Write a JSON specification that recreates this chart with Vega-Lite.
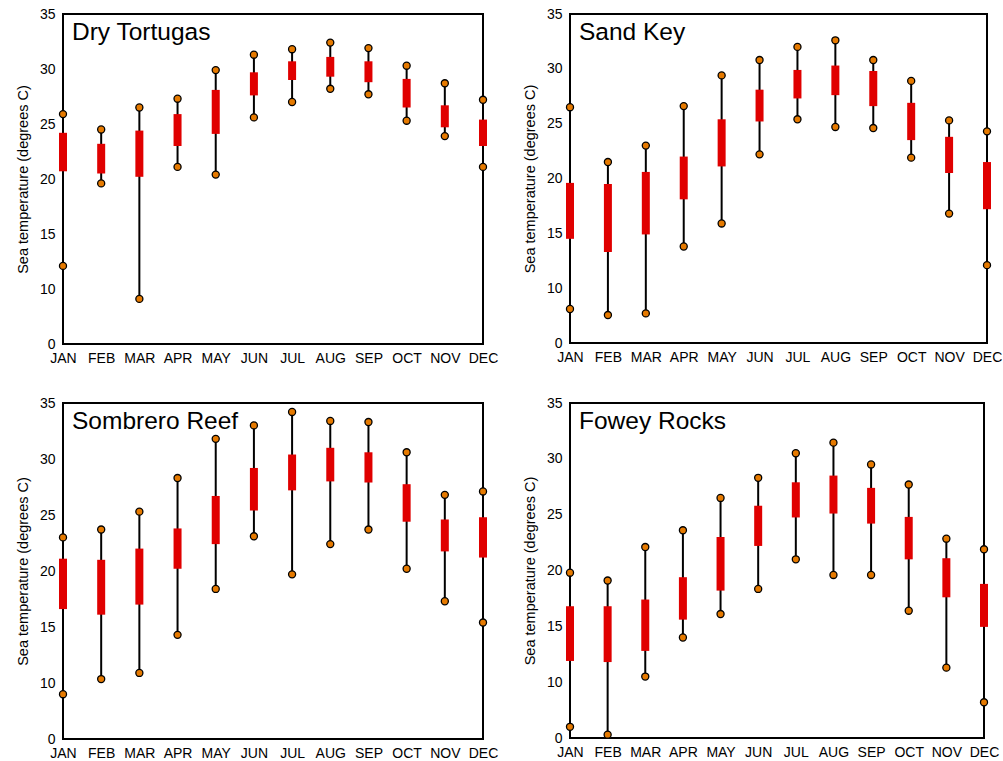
{
  "$schema": "https://vega.github.io/schema/vega-lite/v6.json",
  "padding": {"left": 14, "top": 6, "right": 0, "bottom": 0},
  "data": {"values": [
    {"station": "Dry Tortugas", "month": "JAN", "min": 12.1, "q1": 20.7, "q3": 24.2, "max": 25.9},
    {"station": "Dry Tortugas", "month": "FEB", "min": 19.6, "q1": 20.5, "q3": 23.2, "max": 24.5},
    {"station": "Dry Tortugas", "month": "MAR", "min": 9.1, "q1": 20.2, "q3": 24.4, "max": 26.5},
    {"station": "Dry Tortugas", "month": "APR", "min": 21.1, "q1": 23.0, "q3": 25.9, "max": 27.3},
    {"station": "Dry Tortugas", "month": "MAY", "min": 20.4, "q1": 24.1, "q3": 28.1, "max": 29.9},
    {"station": "Dry Tortugas", "month": "JUN", "min": 25.6, "q1": 27.6, "q3": 29.7, "max": 31.3},
    {"station": "Dry Tortugas", "month": "JUL", "min": 27.0, "q1": 29.0, "q3": 30.7, "max": 31.8},
    {"station": "Dry Tortugas", "month": "AUG", "min": 28.2, "q1": 29.3, "q3": 31.1, "max": 32.4},
    {"station": "Dry Tortugas", "month": "SEP", "min": 27.7, "q1": 28.8, "q3": 30.7, "max": 31.9},
    {"station": "Dry Tortugas", "month": "OCT", "min": 25.3, "q1": 26.5, "q3": 29.1, "max": 30.3},
    {"station": "Dry Tortugas", "month": "NOV", "min": 23.9, "q1": 24.7, "q3": 26.7, "max": 28.7},
    {"station": "Dry Tortugas", "month": "DEC", "min": 21.1, "q1": 23.0, "q3": 25.4, "max": 27.2},
    {"station": "Sand Key", "month": "JAN", "min": 8.1, "q1": 14.5, "q3": 19.6, "max": 26.5},
    {"station": "Sand Key", "month": "FEB", "min": 7.55, "q1": 13.3, "q3": 19.5, "max": 21.5},
    {"station": "Sand Key", "month": "MAR", "min": 7.7, "q1": 14.9, "q3": 20.6, "max": 23.0},
    {"station": "Sand Key", "month": "APR", "min": 13.8, "q1": 18.1, "q3": 22.0, "max": 26.6},
    {"station": "Sand Key", "month": "MAY", "min": 15.9, "q1": 21.1, "q3": 25.4, "max": 29.4},
    {"station": "Sand Key", "month": "JUN", "min": 22.2, "q1": 25.2, "q3": 28.1, "max": 30.8},
    {"station": "Sand Key", "month": "JUL", "min": 25.4, "q1": 27.3, "q3": 29.9, "max": 32.0},
    {"station": "Sand Key", "month": "AUG", "min": 24.7, "q1": 27.6, "q3": 30.3, "max": 32.6},
    {"station": "Sand Key", "month": "SEP", "min": 24.6, "q1": 26.6, "q3": 29.8, "max": 30.8},
    {"station": "Sand Key", "month": "OCT", "min": 21.9, "q1": 23.5, "q3": 26.9, "max": 28.9},
    {"station": "Sand Key", "month": "NOV", "min": 16.8, "q1": 20.5, "q3": 23.8, "max": 25.3},
    {"station": "Sand Key", "month": "DEC", "min": 12.1, "q1": 17.2, "q3": 21.5, "max": 24.3},
    {"station": "Sombrero Reef", "month": "JAN", "min": 9.0, "q1": 16.6, "q3": 21.1, "max": 23.0},
    {"station": "Sombrero Reef", "month": "FEB", "min": 10.35, "q1": 16.1, "q3": 21.0, "max": 23.7},
    {"station": "Sombrero Reef", "month": "MAR", "min": 10.9, "q1": 17.0, "q3": 22.0, "max": 25.3},
    {"station": "Sombrero Reef", "month": "APR", "min": 14.3, "q1": 20.2, "q3": 23.8, "max": 28.3},
    {"station": "Sombrero Reef", "month": "MAY", "min": 18.4, "q1": 22.4, "q3": 26.7, "max": 31.8},
    {"station": "Sombrero Reef", "month": "JUN", "min": 23.1, "q1": 25.4, "q3": 29.2, "max": 33.0},
    {"station": "Sombrero Reef", "month": "JUL", "min": 19.7, "q1": 27.2, "q3": 30.4, "max": 34.2},
    {"station": "Sombrero Reef", "month": "AUG", "min": 22.4, "q1": 28.0, "q3": 31.0, "max": 33.4},
    {"station": "Sombrero Reef", "month": "SEP", "min": 23.7, "q1": 27.9, "q3": 30.6, "max": 33.3},
    {"station": "Sombrero Reef", "month": "OCT", "min": 20.2, "q1": 24.4, "q3": 27.75, "max": 30.6},
    {"station": "Sombrero Reef", "month": "NOV", "min": 17.3, "q1": 21.75, "q3": 24.6, "max": 26.8},
    {"station": "Sombrero Reef", "month": "DEC", "min": 15.4, "q1": 21.2, "q3": 24.8, "max": 27.1},
    {"station": "Fowey Rocks", "month": "JAN", "min": 6.0, "q1": 11.9, "q3": 16.8, "max": 19.8},
    {"station": "Fowey Rocks", "month": "FEB", "min": 5.3, "q1": 11.8, "q3": 16.8, "max": 19.1},
    {"station": "Fowey Rocks", "month": "MAR", "min": 10.5, "q1": 12.8, "q3": 17.4, "max": 22.1},
    {"station": "Fowey Rocks", "month": "APR", "min": 14.0, "q1": 15.6, "q3": 19.4, "max": 23.6},
    {"station": "Fowey Rocks", "month": "MAY", "min": 16.1, "q1": 18.2, "q3": 23.0, "max": 26.5},
    {"station": "Fowey Rocks", "month": "JUN", "min": 18.35, "q1": 22.2, "q3": 25.8, "max": 28.3},
    {"station": "Fowey Rocks", "month": "JUL", "min": 21.0, "q1": 24.75, "q3": 27.9, "max": 30.5},
    {"station": "Fowey Rocks", "month": "AUG", "min": 19.6, "q1": 25.1, "q3": 28.5, "max": 31.45},
    {"station": "Fowey Rocks", "month": "SEP", "min": 19.6, "q1": 24.2, "q3": 27.4, "max": 29.5},
    {"station": "Fowey Rocks", "month": "OCT", "min": 16.4, "q1": 21.0, "q3": 24.8, "max": 27.7},
    {"station": "Fowey Rocks", "month": "NOV", "min": 11.3, "q1": 17.6, "q3": 21.1, "max": 22.85},
    {"station": "Fowey Rocks", "month": "DEC", "min": 8.2, "q1": 14.95, "q3": 18.8, "max": 21.9}
  ]},
  "spacing": 29,
  "vconcat": [
    {
      "spacing": 22,
      "hconcat": [
        {
          "width": 420, "height": 330,
          "transform": [{"filter": "datum.station == 'Dry Tortugas'"}],
          "encoding": {"x": {"field": "month", "type": "ordinal", "sort": ["JAN", "FEB", "MAR", "APR", "MAY", "JUN", "JUL", "AUG", "SEP", "OCT", "NOV", "DEC"], "scale": {"type": "point", "padding": 0}, "axis": {"title": null, "labelAngle": 0, "ticks": false, "domain": false, "labelPadding": 7, "labelFontSize": 14, "labelColor": "#000", "grid": false}}},
          "layer": [
            {"mark": {"type": "rule", "color": "#000", "strokeWidth": 2}, "encoding": {"y": {"field": "min", "type": "quantitative", "scale": {"domain": [5, 35], "nice": false, "zero": false}, "axis": {"title": "Sea temperature (degrees C)", "values": [5, 10, 15, 20, 25, 30, 35], "labelExpr": "datum.value == 5 ? '0' : datum.label", "ticks": false, "domain": false, "grid": false, "labelPadding": 8, "labelFontSize": 14, "labelColor": "#000", "titleFontSize": 14.5, "titleFontWeight": "normal", "titleColor": "#000", "titlePadding": 9}}, "y2": {"field": "max"}}},
            {"mark": {"type": "bar", "color": "#E00000", "size": 8}, "encoding": {"y": {"field": "q1", "type": "quantitative"}, "y2": {"field": "q3"}}},
            {"mark": {"type": "point", "filled": true, "fill": "#E67A00", "stroke": "#000", "strokeWidth": 1.3, "size": 50, "opacity": 1}, "encoding": {"y": {"field": "min", "type": "quantitative"}}},
            {"mark": {"type": "point", "filled": true, "fill": "#E67A00", "stroke": "#000", "strokeWidth": 1.3, "size": 50, "opacity": 1}, "encoding": {"y": {"field": "max", "type": "quantitative"}}},
            {"transform": [{"filter": "datum.month == 'JAN'"}], "mark": {"type": "text", "align": "left", "baseline": "top", "dx": 9, "dy": 7, "fontSize": 24.5, "color": "#000"}, "encoding": {"y": {"datum": 35}, "text": {"field": "station"}}}
          ]
        },
        {
          "width": 417, "height": 329,
          "transform": [{"filter": "datum.station == 'Sand Key'"}],
          "encoding": {"x": {"field": "month", "type": "ordinal", "sort": ["JAN", "FEB", "MAR", "APR", "MAY", "JUN", "JUL", "AUG", "SEP", "OCT", "NOV", "DEC"], "scale": {"type": "point", "padding": 0}, "axis": {"title": null, "labelAngle": 0, "ticks": false, "domain": false, "labelPadding": 7, "labelFontSize": 14, "labelColor": "#000", "grid": false}}},
          "layer": [
            {"mark": {"type": "rule", "color": "#000", "strokeWidth": 2}, "encoding": {"y": {"field": "min", "type": "quantitative", "scale": {"domain": [5, 35], "nice": false, "zero": false}, "axis": {"title": "Sea temperature (degrees C)", "values": [5, 10, 15, 20, 25, 30, 35], "labelExpr": "datum.value == 5 ? '0' : datum.label", "ticks": false, "domain": false, "grid": false, "labelPadding": 8, "labelFontSize": 14, "labelColor": "#000", "titleFontSize": 14.5, "titleFontWeight": "normal", "titleColor": "#000", "titlePadding": 9}}, "y2": {"field": "max"}}},
            {"mark": {"type": "bar", "color": "#E00000", "size": 8}, "encoding": {"y": {"field": "q1", "type": "quantitative"}, "y2": {"field": "q3"}}},
            {"mark": {"type": "point", "filled": true, "fill": "#E67A00", "stroke": "#000", "strokeWidth": 1.3, "size": 50, "opacity": 1}, "encoding": {"y": {"field": "min", "type": "quantitative"}}},
            {"mark": {"type": "point", "filled": true, "fill": "#E67A00", "stroke": "#000", "strokeWidth": 1.3, "size": 50, "opacity": 1}, "encoding": {"y": {"field": "max", "type": "quantitative"}}},
            {"transform": [{"filter": "datum.month == 'JAN'"}], "mark": {"type": "text", "align": "left", "baseline": "top", "dx": 9, "dy": 7, "fontSize": 24.5, "color": "#000"}, "encoding": {"y": {"datum": 35}, "text": {"field": "station"}}}
          ]
        }
      ]
    },
    {
      "spacing": 22,
      "hconcat": [
        {
          "width": 420, "height": 336,
          "transform": [{"filter": "datum.station == 'Sombrero Reef'"}],
          "encoding": {"x": {"field": "month", "type": "ordinal", "sort": ["JAN", "FEB", "MAR", "APR", "MAY", "JUN", "JUL", "AUG", "SEP", "OCT", "NOV", "DEC"], "scale": {"type": "point", "padding": 0}, "axis": {"title": null, "labelAngle": 0, "ticks": false, "domain": false, "labelPadding": 7, "labelFontSize": 14, "labelColor": "#000", "grid": false}}},
          "layer": [
            {"mark": {"type": "rule", "color": "#000", "strokeWidth": 2}, "encoding": {"y": {"field": "min", "type": "quantitative", "scale": {"domain": [5, 35], "nice": false, "zero": false}, "axis": {"title": "Sea temperature (degrees C)", "values": [5, 10, 15, 20, 25, 30, 35], "labelExpr": "datum.value == 5 ? '0' : datum.label", "ticks": false, "domain": false, "grid": false, "labelPadding": 8, "labelFontSize": 14, "labelColor": "#000", "titleFontSize": 14.5, "titleFontWeight": "normal", "titleColor": "#000", "titlePadding": 9}}, "y2": {"field": "max"}}},
            {"mark": {"type": "bar", "color": "#E00000", "size": 8}, "encoding": {"y": {"field": "q1", "type": "quantitative"}, "y2": {"field": "q3"}}},
            {"mark": {"type": "point", "filled": true, "fill": "#E67A00", "stroke": "#000", "strokeWidth": 1.3, "size": 50, "opacity": 1}, "encoding": {"y": {"field": "min", "type": "quantitative"}}},
            {"mark": {"type": "point", "filled": true, "fill": "#E67A00", "stroke": "#000", "strokeWidth": 1.3, "size": 50, "opacity": 1}, "encoding": {"y": {"field": "max", "type": "quantitative"}}},
            {"transform": [{"filter": "datum.month == 'JAN'"}], "mark": {"type": "text", "align": "left", "baseline": "top", "dx": 9, "dy": 7, "fontSize": 24.5, "color": "#000"}, "encoding": {"y": {"datum": 35}, "text": {"field": "station"}}}
          ]
        },
        {
          "width": 414, "height": 335,
          "transform": [{"filter": "datum.station == 'Fowey Rocks'"}],
          "encoding": {"x": {"field": "month", "type": "ordinal", "sort": ["JAN", "FEB", "MAR", "APR", "MAY", "JUN", "JUL", "AUG", "SEP", "OCT", "NOV", "DEC"], "scale": {"type": "point", "padding": 0}, "axis": {"title": null, "labelAngle": 0, "ticks": false, "domain": false, "labelPadding": 7, "labelFontSize": 14, "labelColor": "#000", "grid": false}}},
          "layer": [
            {"mark": {"type": "rule", "color": "#000", "strokeWidth": 2}, "encoding": {"y": {"field": "min", "type": "quantitative", "scale": {"domain": [5, 35], "nice": false, "zero": false}, "axis": {"title": "Sea temperature (degrees C)", "values": [5, 10, 15, 20, 25, 30, 35], "labelExpr": "datum.value == 5 ? '0' : datum.label", "ticks": false, "domain": false, "grid": false, "labelPadding": 8, "labelFontSize": 14, "labelColor": "#000", "titleFontSize": 14.5, "titleFontWeight": "normal", "titleColor": "#000", "titlePadding": 9}}, "y2": {"field": "max"}}},
            {"mark": {"type": "bar", "color": "#E00000", "size": 8}, "encoding": {"y": {"field": "q1", "type": "quantitative"}, "y2": {"field": "q3"}}},
            {"mark": {"type": "point", "filled": true, "fill": "#E67A00", "stroke": "#000", "strokeWidth": 1.3, "size": 50, "opacity": 1}, "encoding": {"y": {"field": "min", "type": "quantitative"}}},
            {"mark": {"type": "point", "filled": true, "fill": "#E67A00", "stroke": "#000", "strokeWidth": 1.3, "size": 50, "opacity": 1}, "encoding": {"y": {"field": "max", "type": "quantitative"}}},
            {"transform": [{"filter": "datum.month == 'JAN'"}], "mark": {"type": "text", "align": "left", "baseline": "top", "dx": 9, "dy": 7, "fontSize": 24.5, "color": "#000"}, "encoding": {"y": {"datum": 35}, "text": {"field": "station"}}}
          ]
        }
      ]
    }
  ],
  "config": {
    "font": "Liberation Sans",
    "view": {"stroke": "#000", "strokeWidth": 2}
  }
}
